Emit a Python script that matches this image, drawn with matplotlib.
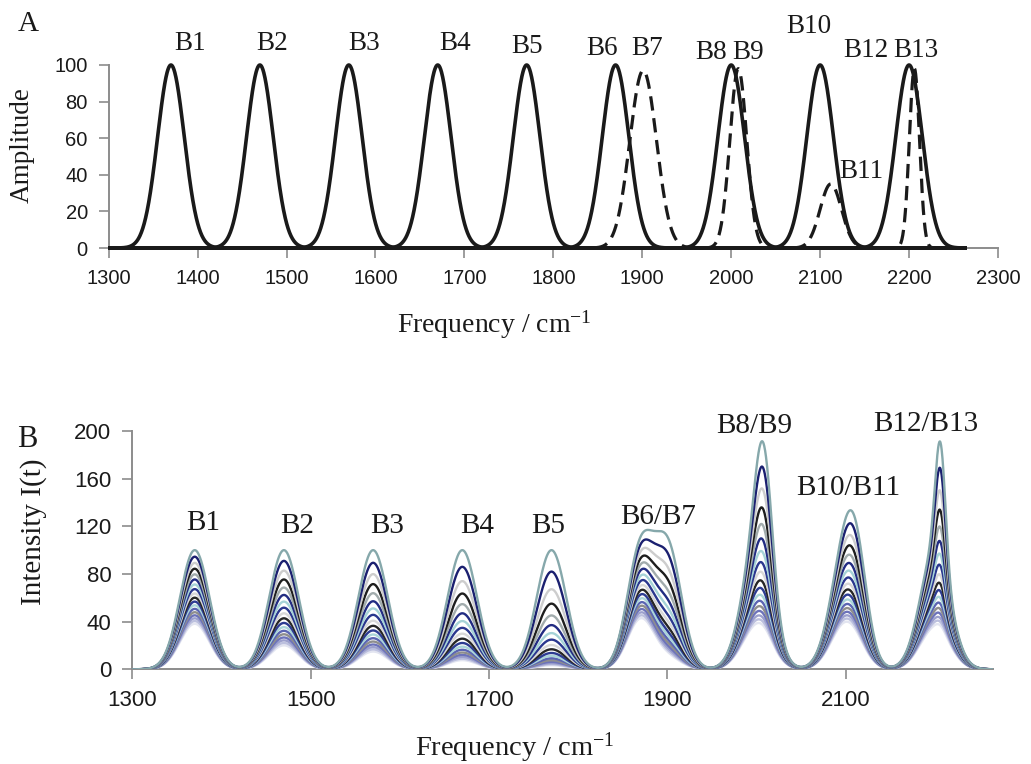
import numpy as np
import matplotlib
matplotlib.use("Agg")
import matplotlib.pyplot as plt

plt.rcParams["mathtext.default"] = "regular"

SERIF = "Liberation Serif"
SANS = "Liberation Sans"

# ---- band definitions -------------------------------------------------
band_names = ["B1", "B2", "B3", "B4", "B5", "B6", "B7",
              "B8", "B9", "B10", "B11", "B12", "B13"]
band_centers = [1370, 1470, 1570, 1670, 1770, 1870, 1901,
                2000, 2008, 2100, 2112, 2200, 2206]
band_widths = [15, 15, 15, 15, 15, 15, 15, 15, 9.5, 15, 12, 15, 5.7]
band_widths_B = [16.5, 16.5, 16.5, 16.5, 16.5, 15, 15, 16.5, 9.5, 16.5, 12, 16.5, 5.7]
band_amplitude = [100, 100, 100, 100, 100, 100, 97, 100, 98, 100, 35, 100, 98]
band_dashed = [False, False, False, False, False, False, True,
               False, True, False, True, False, True]

# ---- band amplitudes for each time step (panel B) ----------------------
amp_B1 = [100, 94.5, 89.3, 84.4, 79.7, 75.4, 71.2, 67.3, 63.6, 60.1, 56.8, 53.7, 50.7, 47.9, 45.3, 42.8, 40.5, 38.2]
amp_B2 = [100, 91, 82.8, 75.4, 68.6, 62.4, 56.8, 51.7, 47.0, 42.8, 38.9, 35.4, 32.3, 29.4, 26.7, 24.3, 22.1, 20.1]
amp_B3 = [100, 89.4, 79.9, 71.5, 63.9, 57.1, 51.1, 45.7, 40.8, 36.5, 32.6, 29.2, 26.1, 23.3, 20.8, 18.6, 16.7, 14.9]
amp_B4 = [100, 86, 74, 63.6, 54.7, 47.0, 40.5, 34.8, 29.9, 25.7, 22.1, 19.0, 16.4, 14.1, 12.1, 10.4, 8.9, 7.7]
amp_B5 = [100, 82, 67.2, 55.1, 45.2, 37.1, 30.4, 24.9, 20.4, 16.8, 13.7, 11.3, 9.2, 7.6, 6.2, 5.1, 4.2, 3.4]
amp_B6 = [100, 95, 90.3, 85.7, 81.5, 77.4, 73.5, 69.8, 66.3, 63.0, 59.9, 56.9, 54.0, 51.3, 48.8, 46.3, 44.0, 41.8]
amp_B7 = [98, 85.3, 74.2, 64.5, 56.1, 48.8, 42.5, 37.0, 32.2, 28.0, 24.3, 21.2, 18.4, 16.0, 13.9, 12.1, 10.6, 9.2]
amp_B8 = [100, 94, 88.4, 83.1, 78.1, 73.4, 69.0, 64.8, 61.0, 57.3, 53.9, 50.6, 47.6, 44.7, 42.1, 39.5, 37.2, 34.9]
amp_B9 = [100, 84, 70.6, 59.3, 49.8, 41.8, 35.1, 29.5, 24.8, 20.8, 17.5, 14.7, 12.3, 10.4, 8.7, 7.3, 6.1, 5.2]
amp_B10 = [100, 94.5, 89.3, 84.4, 79.7, 75.4, 71.2, 67.3, 63.6, 60.1, 56.8, 53.7, 50.7, 47.9, 45.3, 42.8, 40.5, 38.2]
amp_B11 = [45, 38.3, 32.5, 27.6, 23.5, 20.0, 17.0, 14.4, 12.3, 10.4, 8.9, 7.5, 6.4, 5.4, 4.6, 3.9, 3.3, 2.8]
amp_B12 = [100, 94, 88.4, 83.1, 78.1, 73.4, 69.0, 64.8, 61.0, 57.3, 53.9, 50.6, 47.6, 44.7, 42.1, 39.5, 37.2, 34.9]
amp_B13 = [97, 80.5, 66.8, 55.5, 46.0, 38.2, 31.7, 26.3, 21.8, 18.1, 15.1, 12.5, 10.4, 8.6, 7.1, 5.9, 4.9, 4.1]
amp_time = [amp_B1, amp_B2, amp_B3, amp_B4, amp_B5, amp_B6, amp_B7,
            amp_B8, amp_B9, amp_B10, amp_B11, amp_B12, amp_B13]

curve_colors = ["#86a8ab", "#1b2070", "#cdcdcd", "#1e1e1e", "#a2acad", "#222c82",
                "#a6d3d7", "#2a378e", "#d8d8d8", "#262626", "#2d3c92", "#aad5d9",
                "#5b65b2", "#8e8e8e", "#6d73ba", "#9ca0cd", "#bcc0de", "#e2e4f0"]

group_labels = ["B1", "B2", "B3", "B4", "B5", "B6/B7", "B8/B9", "B10/B11", "B12/B13"]

# label anchor points (data units)
labelA_pos = [(1391, 108.2), (1484, 108.2), (1587, 108.2), (1689, 108.2), (1771, 106.6),
              (1855, 105.5), (1905, 105.5), (1977, 103.3), (2019, 103.3), (2087, 117.7),
              (2146, 38.3), (2151, 104.5), (2208, 104.5)]
labelB_pos = [(1380, 116.9), (1485, 114.6), (1586, 114.6), (1687, 114.6), (1766, 114.6),
              (1890, 121.9), (1997, 198.6), (2103, 146.3), (2190, 200.3)]

W, H = 1031, 764
fig = plt.figure(figsize=(W / 100, H / 100), dpi=100)

axA = fig.add_axes([108.7 / W, 1 - 248 / H, (998 - 108.7) / W, (248 - 65) / H])
axB = fig.add_axes([132.3 / W, 1 - 669.3 / H, (993 - 132.3) / W, (669.3 - 431) / H])

freq = np.linspace(1300, 2265, 3000)


def gauss(center, width, amp):
    return amp * np.exp(-0.5 * ((freq - center) / width) ** 2)


SPINE = "#8c8c8c"
for ax in (axA, axB):
    for side in ("top", "right"):
        ax.spines[side].set_visible(False)
    for side in ("left", "bottom"):
        ax.spines[side].set_color(SPINE)
        ax.spines[side].set_linewidth(1.4)

# ---- panel A -----------------------------------------------------------
for c, w, a, d in zip(band_centers, band_widths, band_amplitude, band_dashed):
    if d:
        axA.plot(freq, gauss(c, w, a), color="#1a1a1a", lw=2.3,
                 dashes=(4.5, 2.4), clip_on=False, zorder=4)
    else:
        axA.plot(freq, gauss(c, w, a), color="#1a1a1a", lw=2.6,
                 clip_on=False, zorder=3, solid_capstyle="butt")

axA.set_xlim(1300, 2300)
axA.set_ylim(0, 100)
axA.set_xticks(np.arange(1300, 2301, 100))
axA.set_yticks(np.arange(0, 101, 20))
axA.tick_params(direction="out", length=7, width=1.2, color=SPINE,
                labelsize=14.5, labelcolor="#1a1a1a", pad=8)
for lab in axA.get_xticklabels() + axA.get_yticklabels():
    lab.set_fontfamily(SANS)

for name, (x, y) in zip(band_names, labelA_pos):
    axA.text(x, y, name, ha="center", va="baseline", fontsize=19.5,
             family=SERIF, color="#1a1a1a")

# ---- panel B -----------------------------------------------------------
n_curves = len(curve_colors)
for t in range(n_curves - 1, -1, -1):
    total = np.zeros_like(freq)
    for c, w, amps in zip(band_centers, band_widths_B, amp_time):
        total += gauss(c, w, amps[t])
    axB.plot(freq, total, color=curve_colors[t], lw=1.7, zorder=3 + (n_curves - t) * 0.01)

axB.set_xlim(1300, 2265)
axB.set_ylim(0, 200)
axB.set_xticks([1300, 1500, 1700, 1900, 2100])
axB.set_yticks(np.arange(0, 201, 40))
axB.tick_params(direction="out", length=7, width=1.2, color=SPINE,
                labelsize=16, labelcolor="#1a1a1a", pad=8)
for lab in axB.get_xticklabels() + axB.get_yticklabels():
    lab.set_fontfamily(SANS)

for name, (x, y) in zip(group_labels, labelB_pos):
    axB.text(x, y, name, ha="center", va="baseline", fontsize=21,
             family=SERIF, color="#1a1a1a")

# ---- axis titles and panel letters -----------------------------------
def ftext(px, py, s, **kw):
    fig.text(px / W, 1 - py / H, s, family=SERIF, color="#1a1a1a", **kw)


ftext(18, 30.7, "A", fontsize=21, ha="left", va="baseline")
ftext(16.7, 446.7, "B", fontsize=22, ha="left", va="baseline")
ftext(22, 145.5, "Amplitude", fontsize=19.5, rotation=90, ha="center", va="center")
ftext(494, 325, "Frequency / cm$^{-1}$", fontsize=20, ha="center", va="center")
ftext(34, 531.7, "Intensity I(t)", fontsize=21, rotation=90, ha="center", va="center")
ftext(515, 748, "Frequency / cm$^{-1}$", fontsize=20.5, ha="center", va="center")

fig.savefig("out.png", dpi=100)
